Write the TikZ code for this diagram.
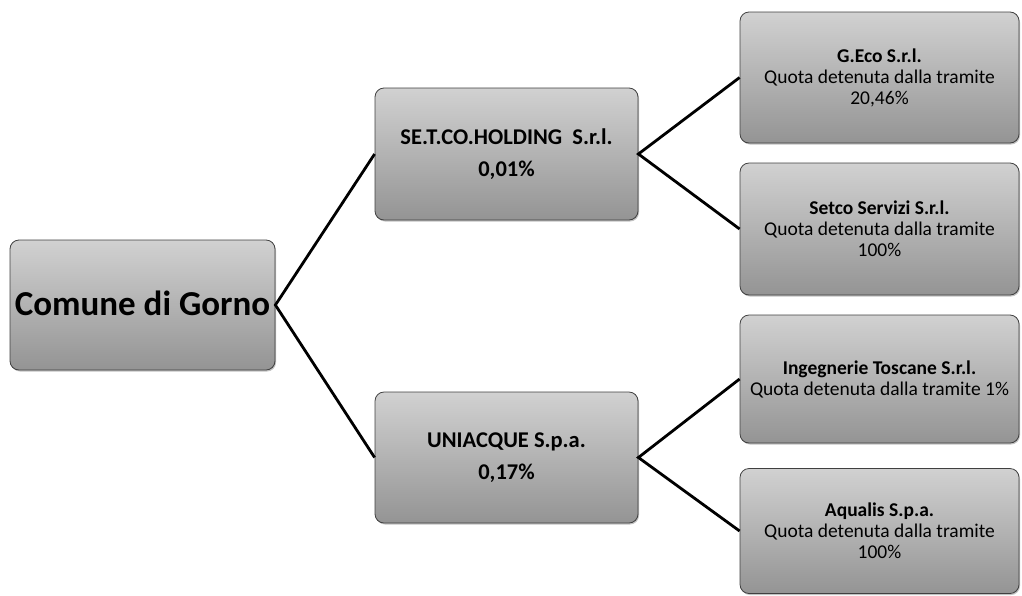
\documentclass[tikz,border=0pt]{standalone}
\usepackage{fontspec}
\setmainfont{Carlito}
\usetikzlibrary{shadows}
\begin{document}
\begin{tikzpicture}[x=1pt,y=-1pt,
  box/.style={draw=black!75, line width=0.8pt, rounded corners=9pt,
    top color=black!18, bottom color=black!42, shading angle=0,
    drop shadow={shadow xshift=1pt, shadow yshift=-1.5pt, fill=black!40, opacity=0.6},
    align=center, inner sep=2pt},
  link/.style={line width=2.8pt, black},
  big/.style={font=\fontsize{35}{38}\selectfont\bfseries},
  mid/.style={font=\fontsize{22.5}{32}\selectfont\bfseries},
  small/.style={font=\fontsize{19.5}{21}\selectfont}
]
\useasboundingbox (0,0) rectangle (1022,595);
\node[box, big, minimum width=265pt, minimum height=130pt] (com) at (142.5,305) {\raisebox{4pt}{Comune di Gorno}};
\node[box, mid, minimum width=263pt, minimum height=132pt] (set) at (506.5,154) {SE.T.CO.HOLDING\ \ S.r.l.\\0,01\%};
\node[box, mid, minimum width=263pt, minimum height=131pt] (uni) at (506.5,457.5) {UNIACQUE S.p.a.\\0,17\%};
\node[box, small, minimum width=279pt, minimum height=131pt] (geco) at (879.5,77.5) {\textbf{G.Eco S.r.l.}\\Quota detenuta\ dalla tramite\\20,46\%};
\node[box, small, minimum width=279pt, minimum height=132pt] (serv) at (879.5,229) {\textbf{Setco Servizi S.r.l.}\\Quota detenuta\ dalla tramite\\100\%};
\node[box, small, minimum width=279pt, minimum height=128pt] (ing) at (879.5,379) {\textbf{Ingegnerie Toscane S.r.l.}\\Quota detenuta\ dalla tramite 1\%};
\node[box, small, minimum width=279pt, minimum height=125pt] (aqu) at (879.5,531) {\textbf{Aqualis S.p.a.}\\Quota detenuta\ dalla tramite\\100\%};
\draw[link] (set.west) -- (com.east) -- (uni.west);
\draw[link] (geco.west) -- (set.east) -- (serv.west);
\draw[link] (ing.west) -- (uni.east) -- (aqu.west);
\end{tikzpicture}
\end{document}
